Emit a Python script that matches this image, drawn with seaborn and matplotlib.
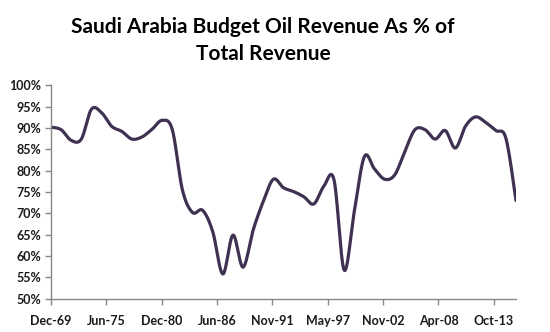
import numpy as np
import pandas as pd
import matplotlib
matplotlib.use("Agg")
import matplotlib.pyplot as plt
import matplotlib.dates as mdates
import seaborn as sns
import datetime as dt

# ---- data ----
years = list(range(1969, 2016))
oil_share = [90.2, 89.6, 87.1, 87.4, 94.4, 93.6, 90.4, 89.2, 87.4, 87.9,
             89.7, 91.8, 89.6, 75.5, 70.2, 70.7, 65.7, 55.8, 64.9, 57.4,
             66.1, 72.8, 78.0, 76.0, 75.1, 73.9, 72.2, 76.4, 77.8, 56.7,
             70.4, 83.3, 80.4, 78.0, 79.0, 84.5, 89.6, 89.6, 87.4, 89.4,
             85.3, 90.4, 92.6, 91.3, 89.4, 87.6, 73.0]
tick_labels = ["Dec-69", "Jun-75", "Dec-80", "Jun-86", "Nov-91",
               "May-97", "Nov-02", "Apr-08", "Oct-13"]
y_ticks = [50, 55, 60, 65, 70, 75, 80, 85, 90, 95, 100]
title_lines = ["Saudi Arabia Budget Oil Revenue As % of", "Total Revenue"]

# ---- positions on a date axis ----
x = np.array([mdates.date2num(dt.date(y, 12, 31)) for y in years])
yv = np.array(oil_share)

# Excel-style smoothed line (Catmull-Rom / Bezier through the data points)
def smooth(xp, yp, n=30):
    P = np.column_stack([xp, yp])
    P_ext = np.vstack([P[0], P, P[-1]])
    out = []
    for i in range(len(P) - 1):
        p0, p1, p2, p3 = P_ext[i], P_ext[i + 1], P_ext[i + 2], P_ext[i + 3]
        c1 = p1 + (p2 - p0) / 6.0
        c2 = p2 - (p3 - p1) / 6.0
        t = np.linspace(0, 1, n, endpoint=(i == len(P) - 2))[:, None]
        seg = ((1 - t) ** 3) * p1 + 3 * ((1 - t) ** 2) * t * c1 + 3 * (1 - t) * t ** 2 * c2 + t ** 3 * p2
        out.append(seg)
    out = np.vstack(out)
    return out[:, 0], out[:, 1]

sx, sy = smooth(x, yv)
df = pd.DataFrame({"date": sx, "share": sy})

sns.set_theme(style="white")
plt.rcParams["font.family"] = ["Lato", "DejaVu Sans"]

fig = plt.figure(figsize=(5.5, 3.32), dpi=100)
ax = fig.add_axes([51 / 550, 1 - 298.7 / 332, (516 - 51) / 550, (298.7 - 85.3) / 332])

sns.lineplot(data=df, x="date", y="share", ax=ax, color="#3f3151",
             linewidth=2.3, sort=False, estimator=None)

start = mdates.date2num(dt.date(1969, 12, 31))
end = mdates.date2num(dt.date(2015, 12, 31))
ax.set_xlim(start, end)
ax.set_ylim(50, 100)
ax.set_xticks([start + 2000 * k for k in range(len(tick_labels))])
ax.set_xticklabels(tick_labels, fontsize=9, fontweight="bold", color="#1a1a1a")
ax.set_yticks(y_ticks)
ax.set_yticklabels([f"{v}%" for v in y_ticks], fontsize=9, fontweight="bold", color="#1a1a1a")
ax.set_xlabel("")
ax.set_ylabel("")

for s in ["top", "right"]:
    ax.spines[s].set_visible(False)
for s in ["left", "bottom"]:
    ax.spines[s].set_color("#868686")
    ax.spines[s].set_linewidth(1.0)
ax.tick_params(axis="both", which="major", direction="out", length=4,
               width=1.0, color="#868686", left=True, bottom=True)
ax.tick_params(axis="x", pad=8)
ax.tick_params(axis="y", pad=3)

for line, base in zip(title_lines, [32.7, 60.0]):
    fig.text(263 / 550, 1 - base / 332, line, ha="center", va="baseline",
             fontsize=15, fontweight="bold", color="black")

fig.savefig("out.png", dpi=100)
